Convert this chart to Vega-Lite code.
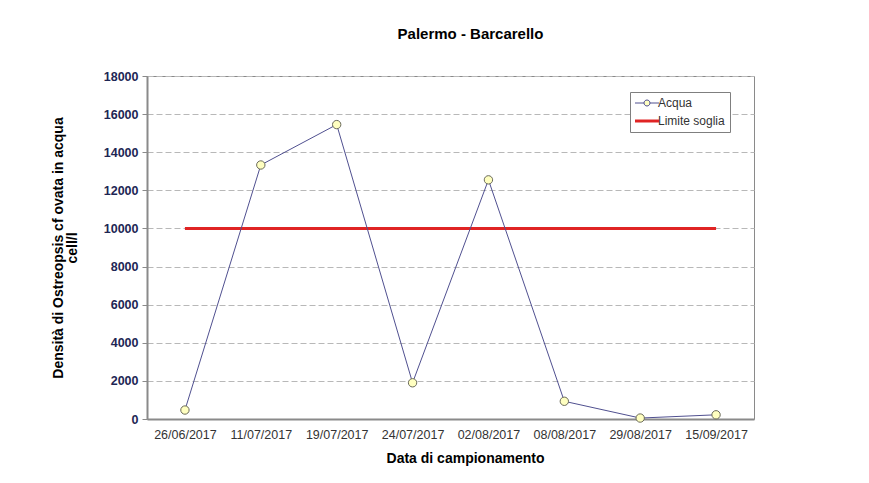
{
  "$schema": "https://vega.github.io/schema/vega-lite/v6.json",
  "autosize": {"type": "none"},
  "width": 607,
  "height": 343,
  "padding": {"left": 147, "top": 76, "right": 115, "bottom": 64},
  "background": "white",
  "config": {
    "font": "Liberation Sans",
    "view": {"stroke": "#8a8a8a", "strokeWidth": 1}
  },
  "title": {
    "text": "Palermo - Barcarello",
    "fontSize": 15,
    "fontWeight": "bold",
    "color": "#000000",
    "anchor": "middle",
    "dx": 20,
    "offset": 28
  },
  "data": {
    "values": [
      {"data": "26/06/2017", "valore": 470, "serie": "Acqua"},
      {"data": "11/07/2017", "valore": 13330, "serie": "Acqua"},
      {"data": "19/07/2017", "valore": 15450, "serie": "Acqua"},
      {"data": "24/07/2017", "valore": 1900, "serie": "Acqua"},
      {"data": "02/08/2017", "valore": 12550, "serie": "Acqua"},
      {"data": "08/08/2017", "valore": 930, "serie": "Acqua"},
      {"data": "29/08/2017", "valore": 50, "serie": "Acqua"},
      {"data": "15/09/2017", "valore": 220, "serie": "Acqua"},
      {"data": "26/06/2017", "valore": 10000, "serie": "Limite soglia"},
      {"data": "11/07/2017", "valore": 10000, "serie": "Limite soglia"},
      {"data": "19/07/2017", "valore": 10000, "serie": "Limite soglia"},
      {"data": "24/07/2017", "valore": 10000, "serie": "Limite soglia"},
      {"data": "02/08/2017", "valore": 10000, "serie": "Limite soglia"},
      {"data": "08/08/2017", "valore": 10000, "serie": "Limite soglia"},
      {"data": "29/08/2017", "valore": 10000, "serie": "Limite soglia"},
      {"data": "15/09/2017", "valore": 10000, "serie": "Limite soglia"}
    ]
  },
  "encoding": {
    "x": {
      "field": "data",
      "type": "ordinal",
      "sort": null,
      "scale": {"padding": 0.5},
      "axis": {
        "title": "Data di campionamento",
        "titleFontSize": 14,
        "titleFontWeight": "bold",
        "titleColor": "#000000",
        "titlePadding": 11,
        "titleX": 318,
        "labelAngle": 0,
        "labelFontSize": 12.5,
        "labelColor": "#333333",
        "labelPadding": 9,
        "ticks": false,
        "domainColor": "#8a8a8a",
        "domainWidth": 2,
        "grid": false
      }
    },
    "y": {
      "field": "valore",
      "type": "quantitative",
      "scale": {"domain": [0, 18000], "nice": false},
      "axis": {
        "title": ["Densità di Ostreopsis  cf ovata in acqua", "cell/l"],
        "titleFontSize": 14,
        "titleFontWeight": "bold",
        "titleColor": "#000000",
        "titlePadding": 24,
        "titleLineHeight": 14,
        "values": [0, 2000, 4000, 6000, 8000, 10000, 12000, 14000, 16000, 18000],
        "format": "d",
        "labelFontSize": 12.5,
        "labelFontWeight": "bold",
        "labelColor": "#1e2654",
        "labelPadding": 4,
        "tickSize": 5,
        "tickColor": "#8a8a8a",
        "domainColor": "#8a8a8a",
        "domainWidth": 2,
        "grid": true,
        "gridColor": "#b8b8b8",
        "gridDash": [6, 3],
        "gridWidth": 1
      }
    }
  },
  "layer": [
    {
      "transform": [{"filter": "datum.serie === 'Limite soglia'"}],
      "mark": {"type": "line", "strokeWidth": 3},
      "encoding": {
        "color": {
          "field": "serie",
          "type": "nominal",
          "scale": {"domain": ["Acqua", "Limite soglia"], "range": ["#505090", "#e02424"]},
          "legend": {
            "title": null,
            "orient": "none",
            "legendX": 483,
            "legendY": 16,
            "direction": "vertical",
            "padding": 5,
            "strokeColor": "#7f7f7f",
            "fillColor": "#ffffff",
            "symbolSize": 400,
            "symbolType": "M-0.6,0H1.8",
            "labelFontSize": 12,
            "labelColor": "#333333",
            "labelOffset": 11,
            "rowPadding": 6,
            "encode": {
              "symbols": {
                "update": {
                  "shape": {"signal": "datum.value === 'Acqua' ? 'M-0.6,0H0.3M0.9,0H1.8M0.3,0A0.3,0.3 0 1,0 0.9,0A0.3,0.3 0 1,0 0.3,0' : 'M-0.6,0H1.8'"},
                  "fill": {"signal": "datum.value === 'Acqua' ? '#ffffc0' : 'transparent'"},
                  "strokeWidth": {"signal": "datum.value === 'Acqua' ? 1 : 3"},
                  "opacity": {"value": 1}
                }
              }
            }
          }
        }
      }
    },
    {
      "transform": [{"filter": "datum.serie === 'Acqua'"}],
      "mark": {"type": "line", "strokeWidth": 1},
      "encoding": {
        "color": {"field": "serie", "type": "nominal"}
      }
    },
    {
      "transform": [{"filter": "datum.serie === 'Acqua'"}],
      "mark": {"type": "point", "filled": true, "fill": "#ffffc0", "stroke": "#6a6a5a", "strokeWidth": 1, "size": 70, "opacity": 1},
      "encoding": {}
    }
  ]
}
